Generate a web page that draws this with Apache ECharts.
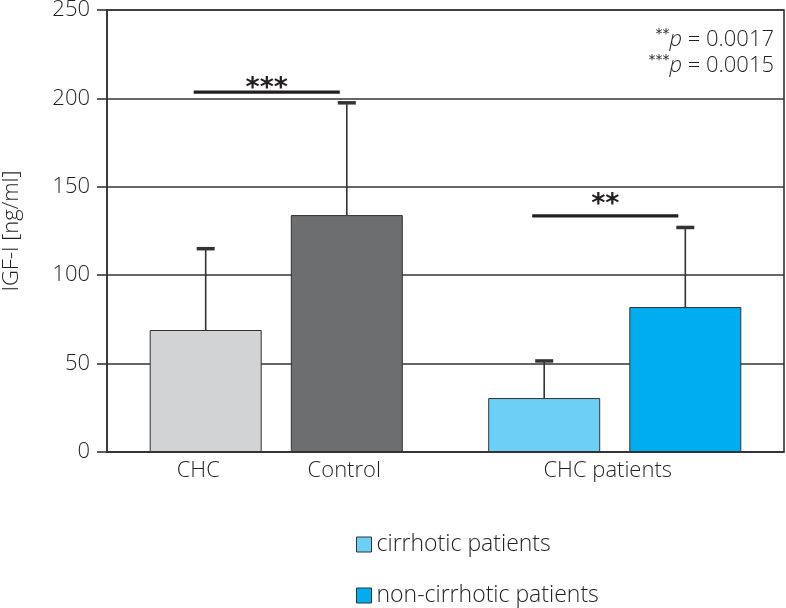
<!DOCTYPE html>
<html>
<head>
<meta charset="utf-8">
<script src="https://cdn.jsdelivr.net/npm/echarts@6/dist/echarts.min.js"></script>
<style>html,body{margin:0;padding:0;background:#fff}#c{width:786px;height:608px}</style>
</head>
<body>
<div id="c"></div>
<script>
// ---- data ----
const categories = ['CHC vs Control', 'CHC patients'];
const tickLabels = [['CHC', 'Control'], ['CHC patients']];
const seriesNames = ['cirrhotic patients', 'non-cirrhotic patients'];
const firstBars = [69, 30.5];      // CHC, cirrhotic
const secondBars = [134, 82];      // Control, non-cirrhotic
const firstErrTop = [115, 51.5];
const secondErrTop = [197.5, 127];
const sigLevel = [203.5, 133.5];
const sigStarLevel = [213, 147.5];
const sigStars = ['***', '**'];
const pNotes = [['**', '0.0017'], ['***', '0.0015']];
const yMin = 0, yMax = 250, yStep = 50;

const INK = '#333';
const TXT = '#231f20';
const FONT = "'Open Sans', 'Noto Sans', sans-serif";
const FW = 300;
const FS = 22;
const barColors = {
  first: ['#d1d3d4', '#6dcff6'],
  second: ['#6d6e70', '#00aeef']
};
const BAR_W = 112, BAR_GAP = 0.26;
const halfStep = (BAR_W * (1 + BAR_GAP)) / 2;

function errItem(params, api, side) {
  const c = api.coord([api.value(0), api.value(1)]);
  const t = api.coord([api.value(0), api.value(2)]);
  const x = c[0] + side * halfStep;
  return {
    type: 'group',
    children: [
      { type: 'line', shape: { x1: x, y1: c[1], x2: x, y2: t[1] }, style: { stroke: INK, lineWidth: 1.6 } },
      { type: 'line', shape: { x1: x - 9, y1: t[1], x2: x + 9, y2: t[1] }, style: { stroke: INK, lineWidth: 3.5 } }
    ]
  };
}

const legendBase = {
  orient: 'vertical',
  left: 351,
  itemWidth: 15, itemHeight: 15,
  icon: 'rect',
  itemStyle: { borderColor: INK, borderWidth: 1 },
  textStyle: { fontSize: 23, fontWeight: FW, color: TXT, fontFamily: FONT, padding: [0, 0, 0, 0] }
};

const chart = echarts.init(document.getElementById('c'), null, { renderer: 'canvas' });
chart.setOption({
  animation: false,
  textStyle: { fontFamily: FONT },
  grid: { left: 107, right: 2, top: 10, bottom: 156, show: true, borderColor: INK, borderWidth: 1.6, backgroundColor: 'transparent', outerBoundsMode: 'none', containLabel: false },
  legend: [
    Object.assign({}, legendBase, { data: [seriesNames[0]], top: 528 }),
    Object.assign({}, legendBase, { data: [seriesNames[1]], top: 579 })
  ],
  xAxis: {
    type: 'category',
    data: categories,
    axisLine: { lineStyle: { color: INK, width: 1.6 } },
    axisTick: { show: false },
    axisLabel: {
      margin: 8,
      color: TXT,
      formatter: function (v, i) {
        const t = tickLabels[i];
        if (t.length === 2) return '{l|' + t[0] + '}{r|' + t[1] + '}{p| }';
        return '{m|' + t[0] + '}{q| }';
      },
      rich: {
        l: { width: 146, align: 'center', fontSize: FS, fontWeight: FW, fontFamily: FONT, color: TXT },
        r: { width: 146, align: 'center', fontSize: FS, fontWeight: FW, fontFamily: FONT, color: TXT },
        p: { width: 10, fontSize: FS },
        m: { fontSize: FS, fontWeight: FW, fontFamily: FONT, color: TXT },
        q: { width: 14, fontSize: FS }
      }
    }
  },
  yAxis: {
    type: 'value',
    min: yMin, max: yMax, interval: yStep,
    name: 'IGF-I [ng/ml]',
    nameLocation: 'middle',
    nameGap: 84,
    nameTextStyle: { fontSize: FS, fontWeight: FW, color: TXT, fontFamily: FONT },
    axisLine: { show: true, lineStyle: { color: INK, width: 1.6 } },
    axisTick: { show: true, length: 10, lineStyle: { color: INK, width: 1.6 } },
    axisLabel: { margin: 17, fontSize: FS, fontWeight: FW, color: TXT, fontFamily: FONT },
    splitLine: { show: true, lineStyle: { color: INK, width: 1.6 } }
  },
  series: [
    {
      name: seriesNames[0], type: 'bar', barWidth: BAR_W, barGap: (BAR_GAP * 100) + '%',
      itemStyle: { color: barColors.first[1], borderColor: INK, borderWidth: 1 },
      data: firstBars.map((v, i) => ({ value: v, itemStyle: { color: barColors.first[i] } })),
      z: 3
    },
    {
      name: seriesNames[1], type: 'bar', barWidth: BAR_W,
      itemStyle: { color: barColors.second[1], borderColor: INK, borderWidth: 1 },
      data: secondBars.map((v, i) => ({ value: v, itemStyle: { color: barColors.second[i] } })),
      z: 3
    },
    {
      type: 'custom', z: 5, silent: true,
      renderItem: (p, api) => errItem(p, api, -1),
      data: firstBars.map((v, i) => [i, v, firstErrTop[i]])
    },
    {
      type: 'custom', z: 5, silent: true,
      renderItem: (p, api) => errItem(p, api, 1),
      data: secondBars.map((v, i) => [i, v, secondErrTop[i]])
    },
    {
      type: 'custom', z: 6, silent: true,
      renderItem: function (p, api) {
        const i = api.value(0);
        const c = api.coord([i, api.value(1)]);
        const s = api.coord([i, api.value(2)]);
        const x1 = c[0] - halfStep - 12, x2 = c[0] + halfStep - 7;
        return {
          type: 'group',
          children: [
            { type: 'line', shape: { x1: x1, y1: c[1], x2: x2, y2: c[1] }, style: { stroke: '#231f20', lineWidth: 3.2 } },
            { type: 'text', x: (x1 + x2) / 2, y: s[1],
              style: { text: sigStars[i], fontSize: 27, fontWeight: 'bold', fontFamily: 'DejaVu Sans', fill: '#231f20', align: 'center', verticalAlign: 'top' } }
          ]
        };
      },
      data: sigLevel.map((v, i) => [i, v, sigStarLevel[i]])
    }
  ],
  graphic: pNotes.map((n, k) => ({
    type: 'text', right: 12, top: 27 + k * 26,
    style: {
      text: '{s|' + n[0] + '}{i|p}{n| = ' + n[1] + '}',
      align: 'right',
      fill: TXT,
      rich: {
        s: { fontSize: 14, fontFamily: 'DejaVu Sans', verticalAlign: 'top', lineHeight: 26, fill: TXT },
        i: { fontSize: 22, fontWeight: FW, fontStyle: 'italic', fontFamily: FONT, lineHeight: 26, fill: TXT },
        n: { fontSize: 22, fontWeight: FW, fontFamily: FONT, lineHeight: 26, fill: TXT }
      }
    }
  }))
});
</script>
</body>
</html>
